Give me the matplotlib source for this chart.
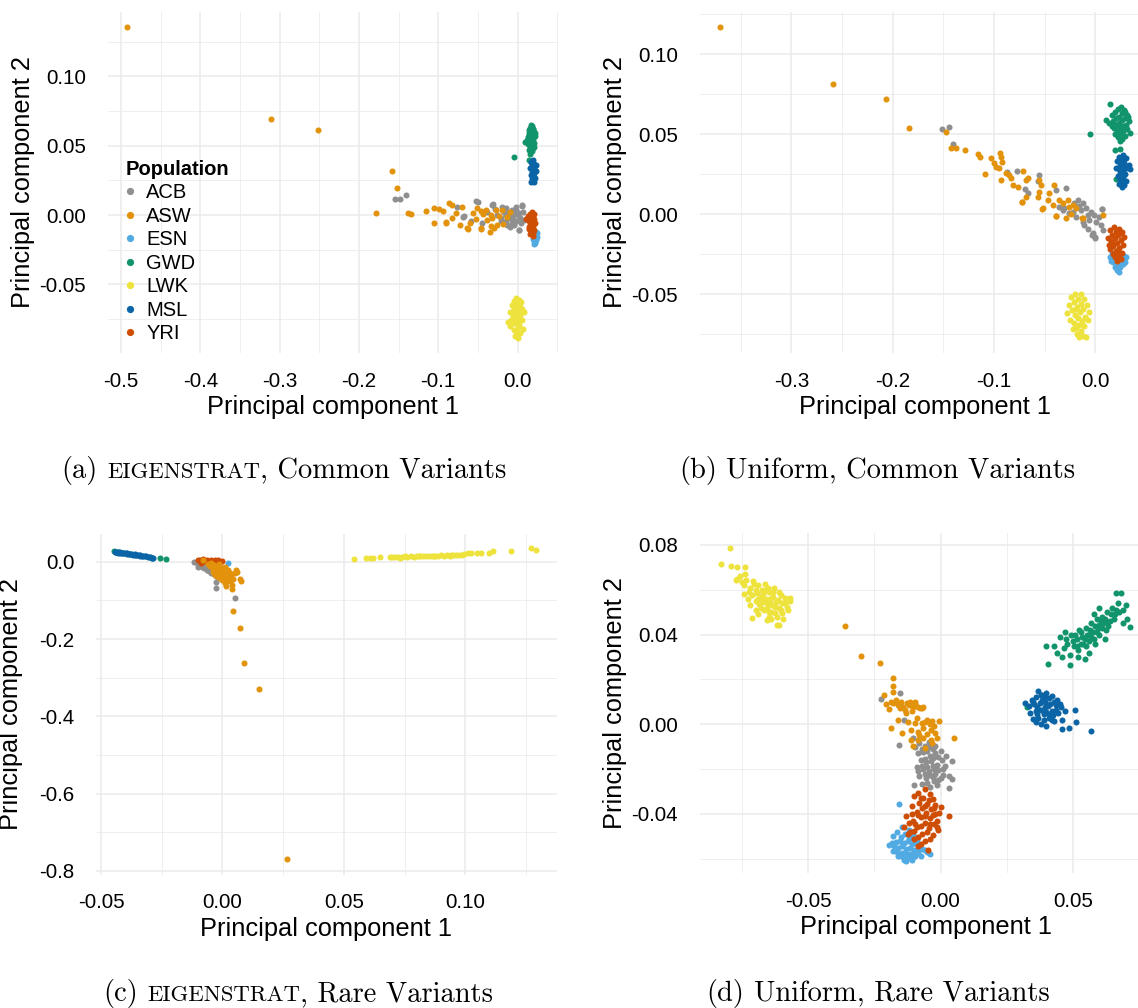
import matplotlib
matplotlib.use("Agg")
import matplotlib.pyplot as plt
from matplotlib.lines import Line2D
from matplotlib.ticker import FixedLocator

plt.rcParams['font.family'] = ['Liberation Sans', 'DejaVu Sans']
plt.rcParams['axes.unicode_minus'] = False

W, H = 1138, 1008

POPULATIONS = ["ACB", "ASW", "ESN", "GWD", "LWK", "MSL", "YRI"]
COLORS = {"ACB": "#8F8F8F", "ASW": "#E3930B", "ESN": "#52AAE3", "GWD": "#11936B",
          "LWK": "#EEE23C", "MSL": "#0A64A6", "YRI": "#CF4E05"}
DRAW_ORDER = ["ESN", "GWD", "MSL", "LWK", "ACB", "YRI", "ASW"]

# ---------------- (a) EIGENSTRAT, common variants ----------------
A_ACB = [(-0.1545, 0.0115), (-0.148, 0.0115), (-0.141, 0.0147), (-0.0759, 0.0058), (-0.0687, -0.0014),
         (-0.052, 0.0098), (-0.0318, 0.0074), (-0.0149, 0.005), (-0.0066, 0.0038), (0.0019, 0.0014),
         (-0.008, -0.001), (-0.0023, -0.0046), (0.002, -0.0106), (0.0053, 0.0072), (-0.059, -0.0046),
         (-0.0444, -0.0058), (-0.0212, -0.0046), (-0.0129, -0.007), (-0.004, -0.007), (-0.0255, 0.0002),
         (-0.0213, -0.0022), (-0.011, 0.0014), (-0.0023, 0.0038), (0.0082, -0.0034), (-0.0676, -0.001),
         (-0.0495, 0.0096), (-0.0315, 0.008), (0.0054, 0.0065), (0.0068, 0.0024), (0.0023, -0.0108),
         (-0.009, -0.0084), (-0.017, 0.0025), (-0.006, -0.003), (0.0, 0.0), (-0.014, -0.004),
         (-0.028, 0.004), (-0.038, 0.002), (0.004, -0.006), (-0.002, 0.006), (-0.019, 0.006),
         (-0.010, -0.002), (-0.004, 0.001), (0.003, -0.002), (-0.015, 0.000), (-0.007, -0.006)]
A_ASW = [(-0.492, 0.1355), (-0.311, 0.0695), (-0.251, 0.0615), (-0.158, 0.0318), (-0.1516, 0.0192),
         (-0.178, 0.0012), (-0.1377, 0.0014), (-0.134, 0.0004), (-0.115, 0.0026), (-0.1053, 0.0048),
         (-0.099, 0.0045), (-0.0935, 0.0026), (-0.0864, 0.0084), (-0.0822, 0.0069), (-0.0772, 0.0014),
         (-0.070, 0.006), (-0.1053, -0.0058), (-0.0906, -0.0053), (-0.083, -0.0022), (-0.0725, -0.007),
         (-0.064, -0.0094), (-0.060, -0.0058), (-0.0557, 0.0014), (-0.0507, 0.005), (-0.0464, 0.0026),
         (-0.040, 0.0038), (-0.0338, 0.0002), (-0.0275, 0.0038), (-0.0192, 0.0038), (-0.0129, -0.0014),
         (-0.0381, -0.0034), (-0.0464, -0.0094), (-0.0338, -0.0082), (-0.0255, -0.007), (-0.0318, -0.0022),
         (-0.0233, -0.001), (-0.063, -0.0103), (-0.0455, -0.0103), (-0.035, -0.0125), (-0.090, -0.006),
         (-0.018, -0.0065), (-0.030, -0.0096), (-0.043, 0.0008), (-0.052, -0.003), (-0.010, 0.002)]
A_ESN = [(0.020, -0.010), (0.023, -0.012), (0.019, -0.013), (0.022, -0.015), (0.024, -0.016),
         (0.020, -0.017), (0.023, -0.018), (0.021, -0.019), (0.022, -0.020), (0.024, -0.013),
         (0.021, -0.021)]
A_GWD = [(0.018, 0.064), (0.016, 0.063), (0.020, 0.062), (0.015, 0.061), (0.021, 0.060), (0.017, 0.060),
         (0.019, 0.058), (0.014, 0.058), (0.022, 0.057), (0.016, 0.056), (0.020, 0.055), (0.012, 0.054),
         (0.018, 0.054), (0.010, 0.053), (0.015, 0.053), (0.021, 0.052), (0.013, 0.051), (0.017, 0.051),
         (0.019, 0.050), (0.016, 0.049), (0.020, 0.048), (0.014, 0.047), (0.018, 0.046), (0.016, 0.044),
         (0.015, 0.040), (0.017, 0.038), (-0.005, 0.042), (0.019, 0.062), (0.017, 0.057), (0.022, 0.059),
         (0.013, 0.056), (0.018, 0.052), (0.021, 0.049), (0.017, 0.065), (0.015, 0.059)]
A_LWK = [(-0.002, -0.060), (0.002, -0.061), (-0.005, -0.062), (0.004, -0.063), (-0.001, -0.064),
         (-0.007, -0.065), (0.003, -0.066), (-0.004, -0.067), (0.005, -0.068), (0.000, -0.069),
         (-0.010, -0.070), (-0.003, -0.071), (0.003, -0.072), (-0.006, -0.073), (0.001, -0.074),
         (-0.002, -0.075), (0.006, -0.076), (-0.008, -0.076), (-0.004, -0.078), (0.002, -0.079),
         (-0.010, -0.080), (0.000, -0.081), (0.007, -0.082), (-0.005, -0.083), (-0.001, -0.084),
         (0.003, -0.085), (-0.003, -0.087), (0.000, -0.089), (-0.012, -0.077), (0.008, -0.070),
         (-0.001, -0.066), (0.001, -0.077)]
A_MSL = [(0.019, 0.040), (0.017, 0.038), (0.021, 0.037), (0.018, 0.036), (0.022, 0.035), (0.016, 0.034),
         (0.020, 0.033), (0.023, 0.032), (0.018, 0.031), (0.021, 0.030), (0.017, 0.029), (0.019, 0.028),
         (0.022, 0.027), (0.018, 0.026), (0.020, 0.025), (0.017, 0.024), (0.021, 0.024), (0.019, 0.034),
         (0.020, 0.029), (0.023, 0.036)]
A_YRI = [(0.018, 0.002), (0.016, 0.001), (0.020, 0.000), (0.013, -0.001), (0.017, -0.002), (0.021, -0.003),
         (0.015, -0.004), (0.019, -0.005), (0.022, -0.006), (0.016, -0.007), (0.020, -0.008), (0.018, -0.009),
         (0.014, -0.010), (0.021, -0.011), (0.017, -0.012), (0.019, -0.013), (0.016, -0.014), (0.020, -0.015),
         (0.018, -0.004), (0.015, -0.009), (0.021, 0.001), (0.011, -0.003)]

# ---------------- (b) Uniform, common variants ----------------
B_ACB = [(-0.1512, 0.0535), (-0.1447, 0.0544), (-0.1407, 0.044), (-0.0875, 0.0262), (-0.0772, 0.0269),
         (-0.0693, 0.0156), (-0.0667, 0.0135), (-0.0559, 0.0244), (-0.0569, 0.0208), (-0.0289, 0.0163),
         (-0.0388, 0.0152), (-0.0355, 0.0048), (-0.0322, 0.0027), (-0.0256, 0.0006), (-0.0174, 0.0089),
         (-0.0125, 0.0069), (-0.0092, 0.0037), (-0.0043, 0.0016), (-0.0010, -0.0004), (-0.0059, -0.0036),
         (0.0007, -0.0046), (-0.0108, -0.0067), (-0.0027, -0.0119), (0.0000, -0.0144), (0.0056, -0.0067),
         (0.0066, 0.0031), (0.0039, -0.0015), (-0.019, -0.0015), (-0.0141, 0.0027), (-0.0224, 0.0016),
         (-0.0306, 0.0037), (-0.0076, -0.0004), (-0.0125, -0.0046), (-0.0035, -0.0129), (0.0, -0.015),
         (0.0063, 0.0031), (-0.007, -0.0094), (0.007, -0.0098), (-0.016, 0.005), (-0.021, 0.007)]
B_ASW = [(-0.370, 0.117), (-0.259, 0.0815), (-0.207, 0.0719), (-0.1836, 0.054), (-0.147, 0.0516),
         (-0.1423, 0.0416), (-0.138, 0.0412), (-0.129, 0.040), (-0.1154, 0.0377), (-0.1134, 0.036),
         (-0.1026, 0.035), (-0.1003, 0.0323), (-0.098, 0.0294), (-0.0947, 0.0291), (-0.094, 0.038),
         (-0.093, 0.036), (-0.092, 0.0329), (-0.109, 0.025), (-0.0934, 0.0214), (-0.088, 0.0256),
         (-0.0848, 0.0246), (-0.0831, 0.0225), (-0.0815, 0.0183), (-0.0766, 0.0173), (-0.071, 0.0269),
         (-0.0667, 0.0225), (-0.0683, 0.0214), (-0.0723, 0.0079), (-0.0683, 0.011), (-0.0552, 0.0214),
         (-0.0536, 0.0183), (-0.0552, 0.0141), (-0.0569, 0.011), (-0.052, 0.0037), (-0.0454, 0.0131),
         (-0.047, 0.0089), (-0.0421, 0.0058), (-0.0404, 0.0183), (-0.0355, 0.0089), (-0.0322, 0.0069),
         (-0.0273, 0.0089), (-0.0256, 0.0048), (-0.019, 0.0037), (-0.0224, 0.0058), (-0.0388, -0.0011),
         (-0.0289, -0.0025), (-0.024, 0.0002), (-0.0125, -0.0025), (0.0072, -0.0004), (-0.0386, -0.001),
         (-0.013, -0.0025), (-0.0527, 0.0031), (-0.072, 0.0079)]
B_ESN = [(0.016, -0.024), (0.022, -0.025), (0.028, -0.026), (0.014, -0.027), (0.019, -0.028), (0.025, -0.029),
         (0.030, -0.027), (0.017, -0.030), (0.022, -0.031), (0.027, -0.031), (0.019, -0.033), (0.024, -0.033),
         (0.021, -0.035), (0.023, -0.036), (0.015, -0.029), (0.029, -0.030)]
B_GWD = [(0.014, 0.069), (0.025, 0.067), (0.022, 0.066), (0.028, 0.065), (0.019, 0.064), (0.026, 0.063),
         (0.031, 0.062), (0.016, 0.062), (0.023, 0.061), (0.029, 0.060), (0.020, 0.060), (0.010, 0.059),
         (0.026, 0.059), (0.033, 0.058), (0.017, 0.058), (0.023, 0.057), (0.030, 0.056), (0.013, 0.057),
         (0.020, 0.056), (0.027, 0.055), (0.024, 0.054), (0.018, 0.054), (0.031, 0.053), (0.021, 0.052),
         (0.027, 0.052), (0.034, 0.051), (0.024, 0.050), (0.019, 0.050), (0.029, 0.049), (0.022, 0.048),
         (0.026, 0.047), (0.024, 0.046), (-0.005, 0.050), (0.019, 0.040), (0.024, 0.041), (0.020, 0.022),
         (0.016, 0.055), (0.032, 0.061), (0.029, 0.064)]
B_LWK = [(-0.020, -0.050), (-0.014, -0.050), (-0.024, -0.052), (-0.017, -0.053), (-0.011, -0.053),
         (-0.021, -0.055), (-0.014, -0.056), (-0.026, -0.057), (-0.008, -0.057), (-0.018, -0.058),
         (-0.012, -0.059), (-0.023, -0.060), (-0.015, -0.061), (-0.006, -0.061), (-0.028, -0.062),
         (-0.020, -0.063), (-0.010, -0.064), (-0.017, -0.065), (-0.025, -0.066), (-0.013, -0.067),
         (-0.007, -0.066), (-0.021, -0.068), (-0.016, -0.069), (-0.011, -0.070), (-0.019, -0.071),
         (-0.014, -0.073), (-0.018, -0.075), (-0.012, -0.076), (-0.016, -0.077), (-0.009, -0.077),
         (-0.022, -0.072), (-0.019, -0.059)]
B_MSL = [(0.027, 0.037), (0.023, 0.036), (0.030, 0.035), (0.025, 0.034), (0.021, 0.033), (0.028, 0.032),
         (0.033, 0.031), (0.024, 0.031), (0.026, 0.030), (0.020, 0.029), (0.030, 0.029), (0.023, 0.028),
         (0.034, 0.028), (0.027, 0.027), (0.025, 0.026), (0.029, 0.025), (0.022, 0.024), (0.027, 0.023),
         (0.024, 0.022), (0.030, 0.021), (0.026, 0.020), (0.023, 0.019), (0.028, 0.018), (0.026, 0.017),
         (0.027, 0.033), (0.024, 0.026)]
B_YRI = [(0.018, -0.008), (0.023, -0.009), (0.014, -0.010), (0.020, -0.011), (0.026, -0.011), (0.016, -0.013),
         (0.022, -0.013), (0.028, -0.014), (0.012, -0.015), (0.019, -0.015), (0.025, -0.016), (0.015, -0.017),
         (0.021, -0.018), (0.027, -0.019), (0.017, -0.020), (0.023, -0.021), (0.014, -0.022), (0.020, -0.023),
         (0.026, -0.024), (0.017, -0.025), (0.023, -0.026), (0.019, -0.027), (0.025, -0.028), (0.021, -0.029),
         (0.016, -0.018), (0.024, -0.012), (0.013, -0.019), (0.022, -0.024)]

# ---------------- (c) EIGENSTRAT, rare variants ----------------
C_ACB = [(-0.0115, 0.000), (-0.0105, -0.004), (-0.0095, -0.008), (-0.0090, -0.002), (-0.0085, -0.012),
         (-0.0080, -0.006), (-0.0075, -0.016), (-0.0070, -0.010), (-0.0065, -0.020), (-0.0060, -0.014),
         (-0.0055, -0.024), (-0.0050, -0.018), (-0.0045, -0.028), (-0.0040, -0.022), (-0.0035, -0.032),
         (-0.0030, -0.026), (-0.0025, -0.036), (-0.0026, -0.051), (-0.0026, -0.068), (0.0051, -0.094),
         (-0.0100, -0.012), (-0.0020, -0.040), (-0.0060, -0.004)]
C_ASW = [(-0.0060, -0.005), (-0.0050, -0.010), (-0.0045, -0.003), (-0.0040, -0.015), (-0.0035, -0.008),
         (-0.0030, -0.020), (-0.0025, -0.012), (-0.0020, -0.025), (-0.0015, -0.006), (-0.0010, -0.030),
         (-0.0005, -0.018), (0.0000, -0.035), (0.0005, -0.022), (0.0010, -0.040), (0.0015, -0.028),
         (0.0020, -0.045), (0.0025, -0.033), (0.0030, -0.050), (0.0010, -0.055), (0.0035, -0.038),
         (0.0040, -0.060), (-0.0030, -0.035), (-0.0020, -0.040), (0.0000, -0.048), (0.0045, -0.045),
         (0.0025, -0.020), (-0.0010, -0.010), (0.0050, -0.030), (0.0060, -0.025), (0.0075, -0.050),
         (0.0072, -0.045), (0.0054, -0.020), (0.0040, -0.069), (0.0043, -0.127), (0.0074, -0.172),
         (0.0090, -0.261), (0.0150, -0.330), (0.0265, -0.770), (-0.0078, 0.004), (0.0015, -0.063),
         (-0.0035, -0.015), (-0.0015, -0.022), (0.0005, -0.030), (0.0020, -0.038), (-0.0005, -0.042),
         (0.0030, -0.028), (-0.0040, -0.025), (0.0012, -0.012)]
C_ESN = [(-0.004, 0.002), (-0.002, 0.000), (0.0025, -0.0017), (-0.001, -0.003), (-0.006, 0.003)]
C_GWD = [(-0.0446, 0.027), (-0.0440, 0.0265), (-0.0430, 0.026), (-0.0259, 0.011), (-0.0232, 0.008),
         (-0.0300, 0.013), (-0.0290, 0.010), (-0.0410, 0.024), (-0.0380, 0.021)]
C_LWK = [(0.0544, 0.0086), (0.0591, 0.0105), (0.0606, 0.0100), (0.0621, 0.0110), (0.0647, 0.0120),
         (0.0690, 0.0115), (0.0700, 0.0130), (0.0712, 0.0120), (0.0725, 0.0135), (0.0738, 0.0125),
         (0.0750, 0.0140), (0.0762, 0.0130), (0.0775, 0.0145), (0.0788, 0.0135), (0.0800, 0.0150),
         (0.0812, 0.0140), (0.0825, 0.0155), (0.0838, 0.0145), (0.0850, 0.0160), (0.0862, 0.0150),
         (0.0875, 0.0165), (0.0888, 0.0155), (0.0900, 0.0170), (0.0912, 0.0160), (0.0925, 0.0175),
         (0.0938, 0.0165), (0.0950, 0.0180), (0.0962, 0.0170), (0.0975, 0.0185), (0.0988, 0.0190),
         (0.0996, 0.0200), (0.0730, 0.0110), (0.0810, 0.0160), (0.0870, 0.0140), (0.0940, 0.0190),
         (0.1025, 0.0233), (0.1050, 0.0233), (0.1065, 0.0233), (0.1100, 0.0230), (0.1115, 0.0285),
         (0.1190, 0.0290), (0.1270, 0.0362), (0.1290, 0.0310), (0.1010, 0.0220)]
C_MSL = [(-0.0444, 0.026), (-0.0438, 0.025), (-0.0432, 0.0255), (-0.0428, 0.024), (-0.0422, 0.0245),
         (-0.0416, 0.023), (-0.0410, 0.0235), (-0.0404, 0.022), (-0.0398, 0.0225), (-0.0392, 0.021),
         (-0.0386, 0.0215), (-0.0380, 0.020), (-0.0374, 0.0205), (-0.0368, 0.019), (-0.0362, 0.0195),
         (-0.0356, 0.018), (-0.0350, 0.0185), (-0.0344, 0.017), (-0.0338, 0.0165), (-0.0332, 0.016),
         (-0.0326, 0.015), (-0.0320, 0.0145), (-0.0314, 0.014), (-0.0308, 0.013), (-0.0300, 0.012),
         (-0.0292, 0.011), (-0.0286, 0.010), (-0.0420, 0.022), (-0.0395, 0.0235), (-0.0360, 0.0175),
         (-0.0340, 0.0185)]
C_YRI = [(-0.0100, 0.004), (-0.0092, 0.006), (-0.0085, 0.002), (-0.0078, 0.007), (-0.0070, 0.003),
         (-0.0062, 0.006), (-0.0055, 0.001), (-0.0048, 0.005), (-0.0040, 0.002), (-0.0032, 0.006),
         (-0.0025, 0.001), (-0.0018, 0.004), (-0.0010, 0.000), (-0.0003, 0.003), (-0.0090, -0.002),
         (-0.0060, -0.003), (-0.0030, -0.004)]

# ---------------- (d) Uniform, rare variants ----------------
D_ACB = [(-0.0226, 0.0114), (-0.0155, 0.0138), (-0.0139, 0.0019), (-0.0105, -0.0061), (-0.0159, -0.0091),
         (-0.0095, -0.0100), (-0.0080, -0.0085), (-0.0060, -0.0095), (-0.0045, -0.0080), (-0.0030, -0.0110),
         (-0.0085, -0.0130), (-0.0065, -0.0125), (-0.0040, -0.0140), (-0.0020, -0.0130), (0.0000, -0.0120),
         (-0.0075, -0.0160), (-0.0055, -0.0170), (-0.0035, -0.0165), (-0.0015, -0.0180), (0.0005, -0.0160),
         (-0.0090, -0.0190), (-0.0065, -0.0200), (-0.0045, -0.0210), (-0.0025, -0.0200), (0.0015, -0.0185),
         (0.0045, -0.0165), (-0.0080, -0.0230), (-0.0055, -0.0240), (-0.0030, -0.0235), (-0.0010, -0.0250),
         (0.0010, -0.0225), (0.0045, -0.0245), (-0.0070, -0.0265), (-0.0040, -0.0280), (-0.0015, -0.0270),
         (0.0030, -0.0285), (-0.0100, -0.0270), (-0.0060, -0.0155), (-0.0020, -0.0095), (0.0020, -0.0140),
         (-0.0070, -0.0110), (-0.0050, -0.0120), (-0.0030, -0.0150), (-0.0010, -0.0145), (-0.0070, -0.0185),
         (-0.0050, -0.0190), (-0.0030, -0.0185), (-0.0010, -0.0205), (0.0010, -0.0200), (-0.0060, -0.0220),
         (-0.0040, -0.0225), (-0.0020, -0.0220), (0.0000, -0.0240), (-0.0050, -0.0260), (-0.0025, -0.0255),
         (-0.0085, -0.0210), (0.0030, -0.0230), (-0.0045, -0.0100)]
D_ASW = [(-0.0361, 0.044), (-0.030, 0.0306), (-0.023, 0.0272), (-0.0179, 0.0205), (-0.0179, 0.0172),
         (-0.0179, 0.0145), (-0.0214, 0.0129), (-0.0206, 0.009), (-0.0197, 0.0067), (-0.0179, 0.0096),
         (-0.016, 0.0086), (-0.0141, 0.0079), (-0.0128, 0.0094), (-0.0115, 0.0101), (-0.0096, 0.009),
         (-0.0084, 0.0076), (-0.0067, 0.0076), (-0.0153, 0.0071), (-0.0134, 0.0064), (-0.0186, 0.0098),
         (-0.0166, 0.0094), (-0.0145, 0.0079), (-0.0098, 0.0101), (-0.0078, 0.0071), (-0.0069, 0.0074),
         (-0.0162, 0.0019), (-0.0125, 0.0012), (-0.0098, 0.0004), (-0.0071, 0.0004), (-0.0051, 0.0019),
         (-0.0031, 0.0016), (-0.0007, 0.0016), (-0.0186, -0.0018), (-0.0145, -0.004), (-0.0112, -0.0025),
         (-0.0085, -0.0033), (-0.0065, -0.0018), (-0.0038, -0.0025), (-0.0024, -0.001), (-0.0112, -0.007),
         (-0.0085, -0.007), (-0.0065, -0.0062), (-0.0038, -0.007), (-0.0013, -0.006), (0.005, -0.0062),
         (-0.0105, -0.0098), (-0.0058, -0.0107), (-0.0031, -0.0085), (-0.0170, 0.0110), (-0.0150, 0.0100),
         (-0.0120, 0.0085), (-0.0105, 0.0075), (-0.0090, 0.0030), (-0.0060, 0.0010), (-0.0040, 0.0000),
         (-0.0080, -0.0050), (-0.0050, -0.0045), (-0.0020, -0.0040), (-0.0130, 0.0050), (-0.0110, 0.0060)]
D_ESN = [(-0.0159, -0.0355), (-0.0145, -0.0460), (-0.0120, -0.0470), (-0.0165, -0.0480), (-0.0135, -0.0490),
         (-0.0105, -0.0495), (-0.0180, -0.0500), (-0.0150, -0.0505), (-0.0120, -0.0510), (-0.0090, -0.0515),
         (-0.0170, -0.0525), (-0.0140, -0.0530), (-0.0110, -0.0535), (-0.0195, -0.0540), (-0.0080, -0.0540),
         (-0.0160, -0.0550), (-0.0130, -0.0555), (-0.0100, -0.0560), (-0.0070, -0.0555), (-0.0180, -0.0565),
         (-0.0145, -0.0575), (-0.0115, -0.0580), (-0.0085, -0.0575), (-0.0050, -0.0570), (-0.0160, -0.0590),
         (-0.0125, -0.0595), (-0.0095, -0.0590), (-0.0140, -0.0605), (-0.0110, -0.0605), (-0.0040, -0.0580),
         (-0.0175, -0.0545), (-0.0150, -0.0590), (-0.0155, -0.0520), (-0.0125, -0.0520), (-0.0095, -0.0530),
         (-0.0185, -0.0530), (-0.0145, -0.0545), (-0.0115, -0.0550), (-0.0085, -0.0555), (-0.0165, -0.0570),
         (-0.0130, -0.0575), (-0.0100, -0.0575), (-0.0060, -0.0560), (-0.0140, -0.0590), (-0.0110, -0.0590),
         (-0.0120, -0.0500), (-0.0130, -0.0610), (-0.0075, -0.0590)]
D_GWD = [(0.0400, 0.0350), (0.0406, 0.0269), (0.0491, 0.0265), (0.0440, 0.0320), (0.0450, 0.0390),
         (0.0465, 0.0340), (0.0480, 0.0360), (0.0490, 0.0310), (0.0495, 0.0400), (0.0505, 0.0350),
         (0.0515, 0.0380), (0.0520, 0.0330), (0.0525, 0.0420), (0.0535, 0.0390), (0.0540, 0.0360),
         (0.0550, 0.0430), (0.0555, 0.0400), (0.0560, 0.0370), (0.0570, 0.0450), (0.0575, 0.0410),
         (0.0580, 0.0380), (0.0590, 0.0470), (0.0595, 0.0430), (0.0600, 0.0400), (0.0610, 0.0480),
         (0.0615, 0.0450), (0.0625, 0.0420), (0.0630, 0.0500), (0.0640, 0.0460), (0.0650, 0.0520),
         (0.0660, 0.0490), (0.0670, 0.0540), (0.0662, 0.0587), (0.0682, 0.0587), (0.0716, 0.0436),
         (0.0690, 0.0450), (0.0560, 0.0320), (0.0545, 0.0290), (0.0520, 0.0300), (0.0600, 0.0520),
         (0.0580, 0.0490), (0.0620, 0.0380), (0.0328, 0.0079), (0.0470, 0.0410), (0.0690, 0.0510),
         (0.0475, 0.0380), (0.0500, 0.0370), (0.0510, 0.0400), (0.0530, 0.0410), (0.0545, 0.0380),
         (0.0550, 0.0350), (0.0565, 0.0420), (0.0570, 0.0390), (0.0585, 0.0440), (0.0590, 0.0410),
         (0.0605, 0.0460), (0.0610, 0.0430), (0.0620, 0.0470), (0.0635, 0.0440), (0.0645, 0.0490),
         (0.0655, 0.0470), (0.0665, 0.0510), (0.0675, 0.0500), (0.0700, 0.0530), (0.0585, 0.0360),
         (0.0530, 0.0360), (0.0600, 0.0445), (0.0625, 0.0455), (0.0560, 0.0400), (0.0515, 0.0350),
         (0.0460, 0.0300), (0.0430, 0.0350), (0.0705, 0.0470)]
D_LWK = [(-0.0798, 0.0785), (-0.0832, 0.0715), (-0.0791, 0.0706), (-0.0771, 0.0703), (-0.0738, 0.0703),
         (-0.0775, 0.0645), (-0.0760, 0.0660), (-0.0745, 0.0620), (-0.0740, 0.0670), (-0.0720, 0.0610),
         (-0.0710, 0.0640), (-0.0700, 0.0600), (-0.0695, 0.0585), (-0.0690, 0.0620), (-0.0680, 0.0570),
         (-0.0675, 0.0600), (-0.0670, 0.0545), (-0.0665, 0.0625), (-0.0660, 0.0560), (-0.0655, 0.0520),
         (-0.0650, 0.0590), (-0.0645, 0.0540), (-0.0640, 0.0500), (-0.0635, 0.0570), (-0.0630, 0.0610),
         (-0.0625, 0.0525), (-0.0620, 0.0480), (-0.0615, 0.0555), (-0.0610, 0.0590), (-0.0605, 0.0510),
         (-0.0600, 0.0540), (-0.0595, 0.0470), (-0.0590, 0.0565), (-0.0580, 0.0525), (-0.0570, 0.0550),
         (-0.0650, 0.0480), (-0.0680, 0.0520), (-0.0610, 0.0445), (-0.0620, 0.0445), (-0.0715, 0.0475),
         (-0.0700, 0.0550), (-0.0660, 0.0600), (-0.0730, 0.0560), (-0.0770, 0.0650), (-0.0752, 0.0635),
         (-0.0735, 0.0645), (-0.0725, 0.0590), (-0.0712, 0.0575), (-0.0705, 0.0625), (-0.0690, 0.0560),
         (-0.0685, 0.0535), (-0.0672, 0.0580), (-0.0668, 0.0510), (-0.0658, 0.0540), (-0.0652, 0.0610),
         (-0.0648, 0.0500), (-0.0642, 0.0565), (-0.0638, 0.0530), (-0.0632, 0.0590), (-0.0628, 0.0495),
         (-0.0622, 0.0545), (-0.0612, 0.0520), (-0.0602, 0.0575), (-0.0598, 0.0495), (-0.0588, 0.0540),
         (-0.0578, 0.0510), (-0.0568, 0.0565), (-0.0640, 0.0470), (-0.0655, 0.0465), (-0.0690, 0.0490),
         (-0.0720, 0.0530), (-0.0745, 0.0580), (-0.0700, 0.0510)]
D_MSL = [(0.0319, 0.0097), (0.0370, 0.0150), (0.0345, 0.0110), (0.0360, 0.0120), (0.0385, 0.0130),
         (0.0400, 0.0140), (0.0420, 0.0125), (0.0440, 0.0110), (0.0335, 0.0080), (0.0355, 0.0090),
         (0.0375, 0.0095), (0.0395, 0.0100), (0.0415, 0.0090), (0.0435, 0.0085), (0.0455, 0.0075),
         (0.0340, 0.0050), (0.0360, 0.0060), (0.0380, 0.0065), (0.0400, 0.0055), (0.0420, 0.0060),
         (0.0445, 0.0050), (0.0350, 0.0025), (0.0370, 0.0030), (0.0390, 0.0020), (0.0410, 0.0030),
         (0.0430, 0.0015), (0.0460, 0.0020), (0.0380, 0.0000), (0.0400, -0.0010), (0.0460, -0.0020),
         (0.0485, -0.0015), (0.0507, 0.0064), (0.0511, 0.0012), (0.0568, -0.0028), (0.0395, 0.0075),
         (0.0425, 0.0040), (0.0350, 0.0100), (0.0365, 0.0075), (0.0385, 0.0110), (0.0405, 0.0080),
         (0.0410, 0.0115), (0.0430, 0.0100), (0.0450, 0.0090), (0.0365, 0.0045), (0.0390, 0.0045),
         (0.0410, 0.0045), (0.0435, 0.0065), (0.0380, 0.0130), (0.0420, 0.0020), (0.0360, 0.0010),
         (0.0470, 0.0060), (0.0395, 0.0120)]
D_YRI = [(-0.0060, -0.0290), (-0.0085, -0.0305), (-0.0040, -0.0310), (-0.0100, -0.0320), (-0.0065, -0.0330),
         (-0.0030, -0.0335), (-0.0080, -0.0350), (-0.0050, -0.0355), (-0.0020, -0.0360), (-0.0110, -0.0365),
         (-0.0070, -0.0375), (-0.0035, -0.0380), (0.0000, -0.0370), (-0.0090, -0.0390), (-0.0055, -0.0395),
         (-0.0020, -0.0400), (-0.0130, -0.0410), (-0.0075, -0.0415), (-0.0040, -0.0420), (0.0030, -0.0410),
         (-0.0105, -0.0430), (-0.0060, -0.0440), (-0.0025, -0.0445), (-0.0140, -0.0460), (-0.0090, -0.0460),
         (-0.0045, -0.0465), (-0.0010, -0.0470), (-0.0115, -0.0480), (-0.0070, -0.0490), (-0.0030, -0.0495),
         (-0.0100, -0.0510), (-0.0060, -0.0520), (-0.0047, -0.0563), (-0.0085, -0.0545), (-0.0015, -0.0430),
         (-0.0005, -0.0395), (-0.0120, -0.0440), (-0.0075, -0.0330), (-0.0045, -0.0340), (-0.0060, -0.0365),
         (-0.0025, -0.0375), (-0.0085, -0.0405), (-0.0060, -0.0410), (-0.0030, -0.0405), (-0.0095, -0.0445),
         (-0.0075, -0.0455), (-0.0040, -0.0445), (-0.0100, -0.0475), (-0.0050, -0.0480), (-0.0085, -0.0505),
         (-0.0040, -0.0510), (-0.0075, -0.0535), (-0.0110, -0.0400), (-0.0015, -0.0460), (-0.0125, -0.0490)]

# Axis ticks (positions and printed labels) for each panel
A_XTICKS = [-0.5, -0.4, -0.3, -0.2, -0.1, 0.0]
A_XLABELS = ["-0.5", "-0.4", "-0.3", "-0.2", "-0.1", "0.0"]
A_YTICKS = [-0.05, 0.0, 0.05, 0.10]
A_YLABELS = ["-0.05", "0.00", "0.05", "0.10"]
B_XTICKS = [-0.3, -0.2, -0.1, 0.0]
B_XLABELS = ["-0.3", "-0.2", "-0.1", "0.0"]
B_YTICKS = [-0.05, 0.0, 0.05, 0.10]
B_YLABELS = ["-0.05", "0.00", "0.05", "0.10"]
C_XTICKS = [-0.05, 0.0, 0.05, 0.10]
C_XLABELS = ["-0.05", "0.00", "0.05", "0.10"]
C_YTICKS = [-0.8, -0.6, -0.4, -0.2, 0.0]
C_YLABELS = ["-0.8", "-0.6", "-0.4", "-0.2", "0.0"]
D_XTICKS = [-0.05, 0.0, 0.05]
D_XLABELS = ["-0.05", "0.00", "0.05"]
D_YTICKS = [-0.04, 0.0, 0.04, 0.08]
D_YLABELS = ["-0.04", "0.00", "0.04", "0.08"]

CAPTIONS = [("(a)", "EIGENSTRAT", ", Common Variants"),
            ("(b)", None, "Uniform, Common Variants"),
            ("(c)", "EIGENSTRAT", ", Rare Variants"),
            ("(d)", None, "Uniform, Rare Variants")]

XTITLE = "Principal component 1"
YTITLE = "Principal component 2"

PANELS = [
    dict(data={"ACB": A_ACB, "ASW": A_ASW, "ESN": A_ESN, "GWD": A_GWD, "LWK": A_LWK, "MSL": A_MSL, "YRI": A_YRI},
         box=(108.3, 11.7, 558.0, 353.0), xlim=(-0.516, 0.051), ylim=(-0.0995, 0.1466),
         xt=(A_XTICKS, A_XLABELS), yt=(A_YTICKS, A_YLABELS)),
    dict(data={"ACB": B_ACB, "ASW": B_ASW, "ESN": B_ESN, "GWD": B_GWD, "LWK": B_LWK, "MSL": B_MSL, "YRI": B_YRI},
         box=(700.0, 11.7, 1150.2, 353.0), xlim=(-0.390, 0.054), ylim=(-0.0867, 0.1266),
         xt=(B_XTICKS, B_XLABELS), yt=(B_YTICKS, B_YLABELS)),
    dict(data={"ACB": C_ACB, "ASW": C_ASW, "ESN": C_ESN, "GWD": C_GWD, "LWK": C_LWK, "MSL": C_MSL, "YRI": C_YRI},
         box=(96.4, 533.5, 556.5, 874.6), xlim=(-0.0519, 0.1376), ylim=(-0.810, 0.0735),
         xt=(C_XTICKS, C_XLABELS), yt=(C_YTICKS, C_YLABELS)),
    dict(data={"ACB": D_ACB, "ASW": D_ASW, "ESN": D_ESN, "GWD": D_GWD, "LWK": D_LWK, "MSL": D_MSL, "YRI": D_YRI},
         box=(700.0, 533.3, 1152.1, 873.3), xlim=(-0.091, 0.080), ylim=(-0.0665, 0.0852),
         xt=(D_XTICKS, D_XLABELS), yt=(D_YTICKS, D_YLABELS)),
]
# minor grid sits halfway between labelled breaks
PANELS[0]["xminor"] = [-0.45, -0.35, -0.25, -0.15, -0.05, 0.05]
PANELS[0]["yminor"] = [-0.075, -0.025, 0.025, 0.075, 0.125]
PANELS[1]["xminor"] = [-0.35, -0.25, -0.15, -0.05, 0.05]
PANELS[1]["yminor"] = [-0.075, -0.025, 0.025, 0.075, 0.125]
PANELS[2]["xminor"] = [-0.025, 0.025, 0.075, 0.125]
PANELS[2]["yminor"] = [-0.7, -0.5, -0.3, -0.1]
PANELS[3]["xminor"] = [-0.075, -0.025, 0.025, 0.075]
PANELS[3]["yminor"] = [-0.06, -0.02, 0.02, 0.06]

TICK_SIZE = 14.9
TITLE_SIZE = 18.3
LEGEND_SIZE = 14.5
CAPTION_SIZE = 20.5
GRID = "#EBEBEB"

fig = plt.figure(figsize=(W / 100, H / 100), dpi=100)


def fx(x):
    return x / W


def fy(y):
    return 1 - y / H


axes = []
for p in PANELS:
    l, t, r, b = p["box"]
    ax = fig.add_axes([fx(l), fy(b), (r - l) / W, (b - t) / H])
    for name in DRAW_ORDER:
        pts = p["data"][name]
        ax.scatter([q[0] for q in pts], [q[1] for q in pts], s=19, color=COLORS[name],
                   linewidths=0, label=name, zorder=3)
    ax.set_xlim(*p["xlim"])
    ax.set_ylim(*p["ylim"])
    ax.xaxis.set_major_locator(FixedLocator(p["xt"][0]))
    ax.set_xticklabels(p["xt"][1])
    ax.yaxis.set_major_locator(FixedLocator(p["yt"][0]))
    ax.set_yticklabels(p["yt"][1])
    ax.xaxis.set_minor_locator(FixedLocator(p["xminor"]))
    ax.yaxis.set_minor_locator(FixedLocator(p["yminor"]))
    ax.grid(which="major", color=GRID, linewidth=1.1)
    ax.grid(which="minor", color=GRID, linewidth=0.55)
    ax.set_axisbelow(True)
    for s in ax.spines.values():
        s.set_visible(False)
    ax.tick_params(which="both", length=0)
    ax.tick_params(axis="x", pad=13.5, labelsize=TICK_SIZE, labelcolor="black")
    ax.tick_params(axis="y", pad=16, labelsize=TICK_SIZE, labelcolor="black")
    cx = (l + r) / 2
    cy = (t + b) / 2
    fig.text(fx(cx), fy(b + 54), XTITLE, fontsize=TITLE_SIZE, ha="center", va="center")
    fig.text(fx(l - 85), fy(cy), YTITLE, fontsize=TITLE_SIZE, ha="center", va="center", rotation=90)
    axes.append(ax)

# legend in panel (a)
handles = [Line2D([], [], marker="o", linestyle="", markersize=5.2, markeredgewidth=0,
                  color=COLORS[n]) for n in POPULATIONS]
leg = axes[0].legend(handles, POPULATIONS, title="Population", loc="upper left",
                     bbox_to_anchor=(fx(126), fy(160)), bbox_transform=fig.transFigure,
                     frameon=False, fontsize=LEGEND_SIZE,
                     title_fontproperties={"weight": "bold", "size": LEGEND_SIZE},
                     alignment="left", handlelength=0.4, handletextpad=0.6,
                     labelspacing=0.22, borderpad=0, borderaxespad=0)

# sub-figure captions in Computer Modern, small caps faked with reduced capitals
renderer = fig.canvas.get_renderer()
CAPTION_POS = [(284, 478), (877, 478), (298, 1001), (878, 1001)]
space_px = 0.333 * CAPTION_SIZE * 100 / 72
for (tag, sc, rest), (cx, base) in zip(CAPTIONS, CAPTION_POS):
    pieces = [(tag, CAPTION_SIZE)]
    if sc:
        pieces.append((sc, CAPTION_SIZE * 0.8))
    pieces.append((rest, CAPTION_SIZE))
    texts = [fig.text(0, fy(base), s, fontsize=sz, family="cmr10", va="baseline") for s, sz in pieces]
    widths = [tx.get_window_extent(renderer).width for tx in texts]
    gaps = [space_px] + ([0] if sc else [])
    total = sum(widths) + sum(gaps)
    x = cx - total / 2
    for i, tx in enumerate(texts):
        tx.set_x(fx(x))
        x += widths[i] + (gaps[i] if i < len(gaps) else 0)

fig.savefig("out.png", dpi=100)
